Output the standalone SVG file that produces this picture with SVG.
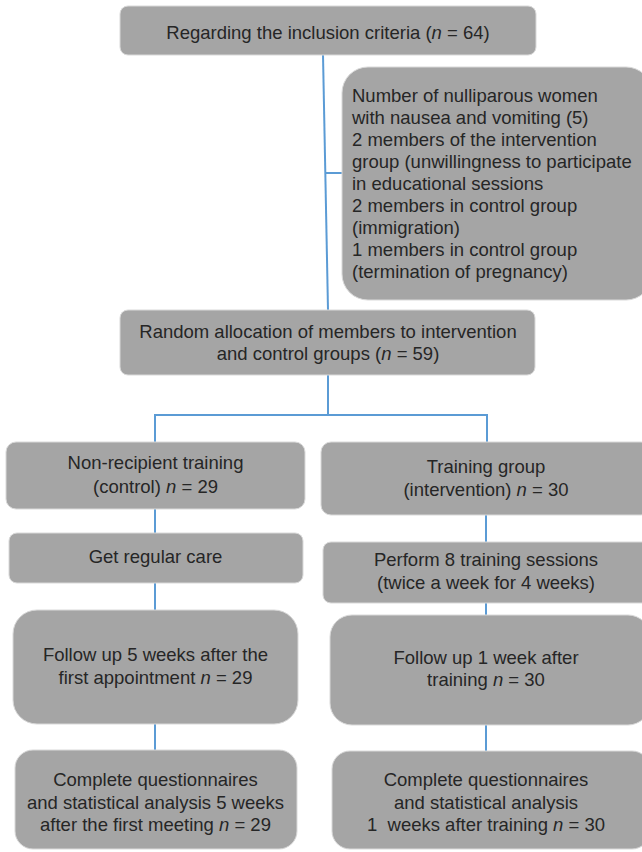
<svg xmlns="http://www.w3.org/2000/svg" width="642" height="852" viewBox="0 0 642 852">
<style>
.box{fill:#a5a5a5;stroke:#d9d9d9;stroke-width:1}
text{font-family:"Liberation Sans",Arial,sans-serif;font-size:18.5px;fill:#262626}
.c{text-anchor:middle}
.i{font-style:italic}
.ln{stroke:#5b9bd5;stroke-width:2;fill:none}
</style>
<rect width="642" height="852" fill="#ffffff"/>
<g id="connectors">
<path class="ln" d="M323,55 L328,310"/>
<path class="ln" d="M325,173 L342,173"/>
<path class="ln" d="M328,375 L328,415 M155,415 L487,415 M155,414 L155,442 M487,414 L487,442"/>
<path class="ln" d="M155,509 L155,533 M155,583 L155,610 M155,724 L155,750"/>
<path class="ln" d="M486,515 L486,542 M486,603 L486,615 M486,725 L486,751"/>
</g>
<g id="n1">
<rect class="box" x="120" y="6" width="416" height="49" rx="8"/>
<text class="c" x="328" y="39">Regarding the inclusion criteria (<tspan class="i">n</tspan> = 64)</text>
</g>
<g id="n2">
<rect class="box" x="342" y="67" width="310" height="233" rx="26"/>
<text x="352" y="102">Number of nulliparous women</text>
<text x="352" y="124">with nausea and vomiting (5)</text>
<text x="352" y="146">2 members of the intervention</text>
<text x="352" y="168">group (unwillingness to participate</text>
<text x="352" y="190">in educational sessions</text>
<text x="352" y="212">2 members in control group</text>
<text x="352" y="234">(immigration)</text>
<text x="352" y="256">1 members in control group</text>
<text x="352" y="278">(termination of pregnancy)</text>
</g>
<g id="n3">
<rect class="box" x="120" y="310" width="415" height="65" rx="8"/>
<text class="c" x="328" y="338">Random allocation of members to intervention</text>
<text class="c" x="328" y="360">and control groups (<tspan class="i">n</tspan> = 59)</text>
</g>
<g id="n4">
<rect class="box" x="6" y="442" width="299" height="67" rx="10"/>
<text class="c" x="155.5" y="469">Non-recipient training</text>
<text class="c" x="155.5" y="493">(control) <tspan class="i">n</tspan> = 29</text>
</g>
<g id="n5">
<rect class="box" x="321" y="442" width="330" height="73" rx="10"/>
<text class="c" x="486" y="473">Training group</text>
<text class="c" x="486" y="496">(intervention) <tspan class="i">n</tspan> = 30</text>
</g>
<g id="n6">
<rect class="box" x="9" y="533" width="294" height="50" rx="8"/>
<text class="c" x="155.5" y="563">Get regular care</text>
</g>
<g id="n7">
<rect class="box" x="323" y="542" width="328" height="61" rx="8"/>
<text class="c" x="486" y="566">Perform 8 training sessions</text>
<text class="c" x="486" y="589">(twice a week for 4 weeks)</text>
</g>
<g id="n8">
<rect class="box" x="13" y="610" width="285" height="114" rx="24"/>
<text class="c" x="155.5" y="661">Follow up 5 weeks after the</text>
<text class="c" x="155.5" y="684">first appointment <tspan class="i">n</tspan> = 29</text>
</g>
<g id="n9">
<rect class="box" x="330" y="615" width="320" height="110" rx="22"/>
<text class="c" x="486" y="664">Follow up 1 week after</text>
<text class="c" x="486" y="686">training <tspan class="i">n</tspan> = 30</text>
</g>
<g id="n10">
<rect class="box" x="15" y="750" width="282" height="99" rx="18"/>
<text class="c" x="155.5" y="786">Complete questionnaires</text>
<text class="c" x="155.5" y="809">and statistical analysis 5 weeks</text>
<text class="c" x="155.5" y="831">after the first meeting <tspan class="i">n</tspan> = 29</text>
</g>
<g id="n11">
<rect class="box" x="332" y="751" width="318" height="98" rx="18"/>
<text class="c" x="486" y="786">Complete questionnaires</text>
<text class="c" x="486" y="809">and statistical analysis</text>
<text class="c" x="486" y="831" xml:space="preserve">1  weeks after training <tspan class="i">n</tspan> = 30</text>
</g>
</svg>
